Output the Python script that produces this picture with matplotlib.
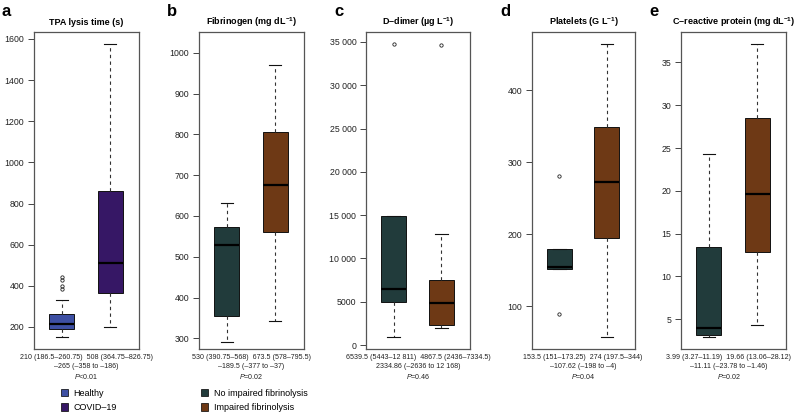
import matplotlib
matplotlib.use("Agg")
import matplotlib.pyplot as plt
from matplotlib.patches import Patch

plt.rcParams['font.family'] = ['Liberation Sans', 'DejaVu Sans']
plt.rcParams['mathtext.fontset'] = 'custom'
plt.rcParams['mathtext.rm'] = 'Liberation Sans'
plt.rcParams['mathtext.it'] = 'Liberation Sans:italic'
plt.rcParams['mathtext.bf'] = 'Liberation Sans:bold'

# colours
col_healthy = '#3d4fa3'
col_covid = '#361765'
col_noimp = '#213b3b'
col_imp = '#6e3915'

titles = ['TPA lysis time (s)', r'Fibrinogen (mg dL$^{\mathbf{-1}}$)',
          r'D–dimer (µg L$^{\mathbf{-1}}$)', r'Platelets (G L$^{\mathbf{-1}}$)',
          r'C–reactive protein (mg dL$^{\mathbf{-1}}$)']
letters = ['a', 'b', 'c', 'd', 'e']

# box statistics per panel: [group1, group2]
whislo = [[151, 200], [292, 342], [880, 1920], [152, 57.6], [2.9, 4.3]]
q1 = [[190, 364], [355, 560], [5030, 2270], [152, 195], [3.13, 12.8]]
med = [[213, 512], [530, 675], [6500, 4860], [155, 273], [3.95, 19.6]]
q3 = [[262, 862], [573, 807], [14950, 7510], [180, 349], [13.4, 28.5]]
whishi = [[331, 1575], [631, 970], [14950, 12820], [180, 464], [24.25, 37.2]]
fliers = [[[442, 428, 399, 385], []], [[], []], [[34750], [34700]],
          [[89, 281.5], []], [[], []]]

ylims = [(93, 1634), (274, 1051), (-450, 36150), (41, 481), (1.53, 38.55)]
yticks = [[200, 400, 600, 800, 1000, 1200, 1400, 1600],
          [300, 400, 500, 600, 700, 800, 900, 1000],
          [0, 5000, 10000, 15000, 20000, 25000, 30000, 35000],
          [100, 200, 300, 400],
          [5, 10, 15, 20, 25, 30, 35]]
ytick_labels = [None, None,
                ['0', '5000', '10 000', '15 000', '20 000', '25 000', '30 000', '35 000'],
                None, None]

bottom_text = [
    '210 (186.5–260.75)  508 (364.75–826.75)\n–265 (–358 to –186)\n$\\it{P}$<0.01',
    '530 (390.75–568)  673.5 (578–795.5)\n–189.5 (–377 to –37)\n$\\it{P}$=0.02',
    '6539.5 (5443–12 811)  4867.5 (2436–7334.5)\n2334.86 (–2636 to 12 168)\n$\\it{P}$=0.46',
    '153.5 (151–173.25)  274 (197.5–344)\n–107.62 (–198 to –4)\n$\\it{P}$=0.04',
    '3.99 (3.27–11.19)  19.66 (13.06–28.12)\n–11.11 (–23.78 to –1.46)\n$\\it{P}$=0.02',
]

W, H = 794, 412
lefts = [34, 199, 366, 532, 681]
rights = [139, 304, 470, 635, 786]
text_x = [86, 251, 418, 583, 729]
top, bot = 32, 349

fig = plt.figure(figsize=(W / 100, H / 100), dpi=100)

for i in range(5):
    ax = fig.add_axes([lefts[i] / W, 1 - bot / H, (rights[i] - lefts[i]) / W, (bot - top) / H])
    cols = [col_healthy, col_covid] if i == 0 else [col_noimp, col_imp]
    stats = []
    for g in range(2):
        stats.append(dict(med=med[i][g], q1=q1[i][g], q3=q3[i][g],
                          whislo=whislo[i][g], whishi=whishi[i][g], fliers=fliers[i][g]))
    bp = ax.bxp(stats, positions=[1, 2], widths=0.52, capwidths=0.26, patch_artist=True,
                boxprops=dict(edgecolor='#111111', linewidth=0.7),
                medianprops=dict(color='black', linewidth=1.6),
                whiskerprops=dict(color='#333333', linewidth=0.8, linestyle=(0, (3, 3))),
                capprops=dict(color='#111111', linewidth=0.8),
                flierprops=dict(marker='o', markersize=2.4, markerfacecolor='none',
                                markeredgecolor='#222222', markeredgewidth=0.6))
    for b, c in zip(bp['boxes'], cols):
        b.set_facecolor(c)
    ax.set_xlim(0.42, 2.6)
    ax.set_ylim(*ylims[i])
    ax.set_yticks(yticks[i])
    if ytick_labels[i] is not None:
        ax.set_yticklabels(ytick_labels[i])
    ax.set_xticks([])
    ax.tick_params(axis='y', labelsize=6.3, length=4, width=0.7, color='#444444', pad=3,
                   labelcolor='#222222')
    for s in ax.spines.values():
        s.set_color('#555555')
        s.set_linewidth(0.9)
    ax.set_title(titles[i], fontsize=6.5, fontweight='bold', pad=5)
    fig.text(text_x[i] / W, 1 - 354 / H, bottom_text[i], ha='center', va='top', fontsize=5.1,
             linespacing=1.3, color='#222222')
    fig.text((lefts[i] - 32) / W, 1 - 12 / H, letters[i], fontsize=12, fontweight='bold',
             va='center', ha='left')

leg1 = fig.legend(handles=[Patch(facecolor=col_healthy, edgecolor='black', linewidth=0.5),
                           Patch(facecolor=col_covid, edgecolor='black', linewidth=0.5)],
                  labels=['Healthy', 'COVID–19'], loc='upper left',
                  bbox_to_anchor=(57 / W, 1 - 385 / H), frameon=False, fontsize=6.5,
                  handlelength=0.85, handleheight=0.95, handletextpad=0.6, labelspacing=0.6,
                  borderaxespad=0)
leg2 = fig.legend(handles=[Patch(facecolor=col_noimp, edgecolor='black', linewidth=0.5),
                           Patch(facecolor=col_imp, edgecolor='black', linewidth=0.5)],
                  labels=['No impaired fibrinolysis', 'Impaired fibrinolysis'], loc='upper left',
                  bbox_to_anchor=(197 / W, 1 - 385 / H), frameon=False, fontsize=6.5,
                  handlelength=0.85, handleheight=0.95, handletextpad=0.6, labelspacing=0.6,
                  borderaxespad=0)

fig.savefig('out.png', dpi=100)
